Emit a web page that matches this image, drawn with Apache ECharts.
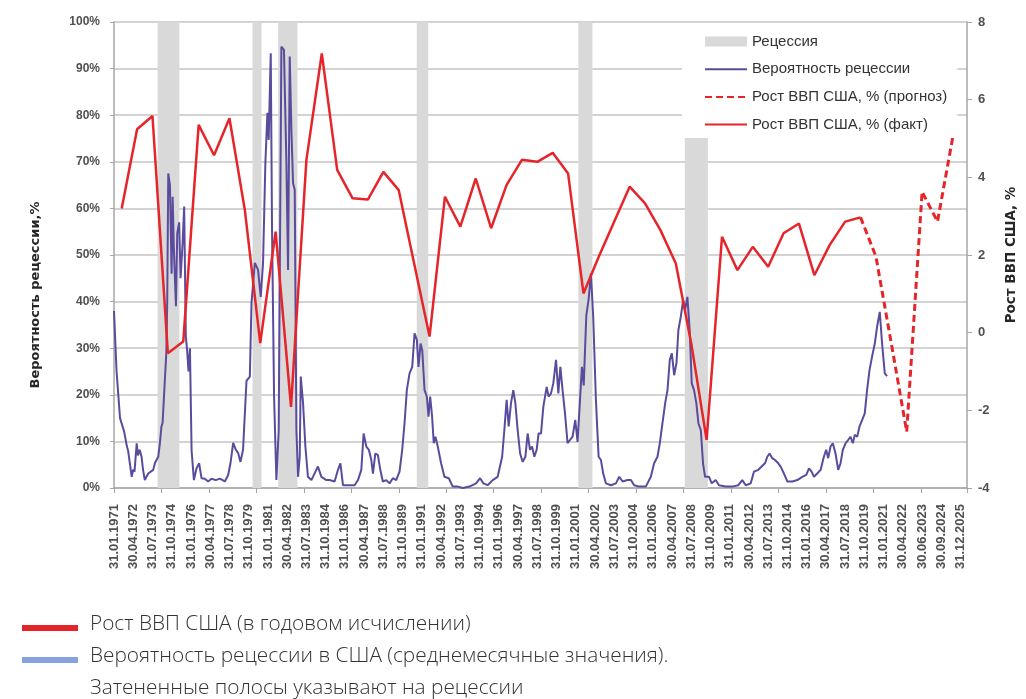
<!DOCTYPE html>
<html>
<head>
<meta charset="utf-8">
<script src="https://cdn.jsdelivr.net/npm/echarts@6/dist/echarts.min.js"></script>
<style>
html, body { margin: 0; padding: 0; background: #fff; }
#chart { width: 1026px; height: 699px; }
</style>
</head>
<body>
<div id="chart"></div>
<script>
// x axis: month index from 31.01.1971, labels every 15 months
var xLabels = ['31.01.1971', '30.04.1972', '31.07.1973', '31.10.1974', '31.01.1976', '30.04.1977', '31.07.1978', '31.10.1979',
    '31.01.1981', '30.04.1982', '31.07.1983', '31.10.1984', '31.01.1986', '30.04.1987', '31.07.1988', '31.10.1989',
    '31.01.1991', '30.04.1992', '31.07.1993', '31.10.1994', '31.01.1996', '30.04.1997', '31.07.1998', '31.10.1999',
    '31.01.2001', '30.04.2002', '31.07.2003', '31.10.2004', '31.01.2006', '30.04.2007', '31.07.2008', '31.10.2009',
    '31.01.2011', '30.04.2012', '31.07.2013', '31.10.2014', '31.01.2016', '30.04.2017', '31.07.2018', '31.10.2019',
    '31.01.2021', '30.04.2022', '30.06.2023', '30.09.2024', '31.12.2025'];

// recessions (month index) and shaded height, %
var recStart = [34, 108, 128, 236, 362, 445];
var recEnd = [51, 115, 143, 245, 373, 463];
var recTop = [100, 100, 100, 100, 100, 75.5];

// GDP growth, % y/y
var gdpYears = [1971, 1972, 1973, 1974, 1975, 1976, 1977, 1978, 1979, 1980, 1981, 1982, 1983, 1984, 1985, 1986, 1987,
    1988, 1989, 1990, 1991, 1992, 1993, 1994, 1995, 1996, 1997, 1998, 1999, 2000, 2001, 2002, 2003, 2004, 2005,
    2006, 2007, 2008, 2009, 2010, 2011, 2012, 2013, 2014, 2015, 2016, 2017, 2018, 2019];
var gdpFact = [3.2, 5.24, 5.58, -0.53, -0.23, 5.35, 4.57, 5.52, 3.16, -0.27, 2.6, -1.91, 4.45, 7.19, 4.19, 3.46, 3.43,
    4.14, 3.67, 1.78, -0.1, 3.5, 2.73, 3.97, 2.69, 3.8, 4.45, 4.4, 4.63, 4.1, 1.01, 1.96, 2.86, 3.76, 3.33,
    2.64, 1.78, -0.27, -2.76, 2.47, 1.61, 2.21, 1.7, 2.56, 2.81, 1.48, 2.26, 2.86, 2.97];
var fcYears = [2019, 2020, 2021, 2022, 2023, 2024, 2025];
var gdpForecast = [2.97, 1.96, -0.28, -2.55, 3.63, 2.86, 5.05];

// recession probability, % : [month index, value]
var probability = [
    [0, 38], [2, 25], [4.7, 15], [6, 15], [8, 12], [10, 9], [11, 8], [13.8, 2.4], [15, 4], [16, 3.5], [17.7, 9.6],
    [18.7, 7], [20, 8.2], [21.5, 6.7], [22.6, 4], [24, 1.7], [26.7, 3.1], [28, 2.8], [30.6, 3.9], [32, 5.4],
    [34.5, 6.7], [35.8, 9.7], [37, 13.2], [37.9, 14], [39.7, 23.5], [40.8, 29], [41.5, 40], [42.3, 67.5],
    [43.6, 65], [44.9, 46], [45.7, 62.5], [46.7, 51], [48.3, 39], [49.3, 54.7], [50.8, 57], [51.9, 45],
    [53.5, 52.6], [54.7, 60.4], [56, 32.5], [57, 29.6], [58.1, 25], [59.2, 30], [60.5, 8], [62.3, 1.7],
    [64.3, 4.2], [66.4, 5.3], [68.2, 2.1], [70.8, 2], [73.4, 1.4], [76, 2], [79.4, 1.7], [82.5, 2], [86.4, 1.4],
    [89, 2.8], [90.8, 5.3], [92.9, 9.7], [95, 8.2], [96.8, 7.5], [98.6, 5.6], [100.6, 8.2], [103.3, 23],
    [105.9, 23.9], [107.2, 39.7], [109.8, 48.3], [112.3, 46.8], [114.4, 41], [116.2, 48.3], [118, 69.7],
    [119.6, 80.5], [120.6, 74.7], [122.2, 93.3], [123.2, 55.4], [124.8, 19.6], [126.6, 1.7], [128.4, 12.4],
    [130.5, 94.7], [132.5, 94], [134.4, 69.7], [135.7, 46.8], [137, 92.6], [138.3, 76.8], [139.6, 65.4],
    [140.9, 64], [142.2, 12.4], [143.5, 2.4], [144.8, 6.7], [145.6, 23.9], [147.4, 18.2], [149.2, 8.9],
    [151.2, 2.4], [153.9, 1.7], [156.5, 3.2], [159, 4.6], [161.7, 2.4], [165.6, 1.7], [168, 1.7], [172, 1.4],
    [174.6, 3.9], [176.5, 5.3], [178.5, 0.6], [182.4, 0.6], [187.6, 0.6], [190.2, 1.7], [192.8, 3.9],
    [194.6, 11.7], [196.7, 8.9], [198.7, 8.2], [200.6, 6], [201.9, 3.1], [203.7, 7.4], [205.7, 7.1],
    [207.6, 3.9], [209.6, 1.4], [212.3, 1.7], [214.8, 1], [217.4, 2.1], [220, 1.7], [222.6, 3.5], [224.7, 8.2],
    [226.5, 13.9], [228.3, 21], [230.4, 24.6], [232.5, 26], [234.3, 33.2], [236.1, 31.8], [237.4, 26],
    [239, 31], [240.3, 29.6], [242.1, 21], [243.9, 19.6], [245.2, 15.3], [246.5, 19.6], [248, 15.3],
    [249.3, 9.6], [250.6, 11], [252.4, 8.9], [255, 5.3], [257.6, 2.4], [261, 2.1], [264.1, 0.3], [268, 0.3],
    [271.9, 0], [277.1, 0.3], [282.3, 1], [285.4, 2.1], [288, 1], [291.3, 0.6], [295.2, 1.7], [299.1, 2.4],
    [302.6, 6.7], [304.3, 12.4], [306.1, 18.9], [307.7, 13.2], [309.5, 18.2], [311.3, 21], [312.9, 18.2],
    [314.7, 12.4], [316.6, 7.4], [318.6, 5.6], [320.7, 6.7], [322.5, 11.7], [324.3, 8.2], [325.9, 8.9],
    [327.7, 6.7], [329.5, 8.2], [331, 11.7], [332.9, 11.7], [334.7, 17.4], [337.3, 21.7], [338.8, 19.6],
    [340.7, 20.3], [342.5, 22.5], [344.6, 27.5], [346.4, 20.3], [348, 26], [349.7, 21], [351.6, 16],
    [353.6, 9.6], [355.5, 10.3], [357.5, 11], [359.6, 14.6], [361.4, 9.9], [363.3, 18.9], [364.8, 26],
    [366.2, 22], [368.2, 37], [370, 40.5], [371.8, 46], [373.6, 36.8], [375.7, 18.9], [377.8, 6.7], [379.6, 6],
    [381.4, 3.1], [383.5, 1], [387.4, 0.6], [391.3, 1], [393.9, 2.4], [396.5, 1.4], [400.3, 1.7], [403, 1.7],
    [405.5, 0.6], [409.4, 0.3], [414.6, 0.3], [418.5, 2.4], [421.1, 5.3], [423.7, 6.7], [425.5, 9.6],
    [427.6, 13.9], [429.7, 18.2], [431.5, 21], [433.3, 27.5], [434.9, 28.9], [436.7, 24.2], [438.5, 26.8],
    [440, 33.9], [441.9, 36.8], [443.7, 40.3], [445.2, 38.2], [447, 41], [448.8, 33.9], [450.4, 22.5],
    [452.2, 21], [454, 18.2], [455.6, 13.9], [457.5, 12.4], [459.2, 5.3], [460.8, 2.4], [463.9, 2.4], [466, 1],
    [469.1, 1.7], [471.6, 0.6], [476.9, 0.3], [482, 0.3], [486.7, 0.6], [489.8, 1.7], [492.5, 0.6], [496.4, 1],
    [498.9, 3.5], [502.3, 3.9], [504.9, 4.6], [507.5, 5.3], [509.3, 6.7], [511.1, 7.4], [513.2, 6.4], [515.3, 6],
    [517.9, 5.3], [519.7, 4.6], [522.3, 3.1], [524.9, 1.4], [528.8, 1.4], [532.7, 1.7], [536.6, 2.4],
    [539.7, 2.8], [541.8, 4.2], [543.9, 3.5], [545.7, 2.4], [548.2, 3.1], [550.9, 3.9], [553.4, 6.7],
    [555.2, 8.2], [556.8, 6.4], [558.6, 8.9], [560.4, 9.6], [562.5, 7.4], [564.6, 3.9], [566.4, 5.3],
    [568.2, 8.2], [570.3, 9.6], [572.3, 10.3], [574.2, 11], [576, 9.6], [577.5, 11.4], [579.4, 11], [581.2, 13.2],
    [583.3, 14.6], [585.3, 16], [587.1, 21], [589, 25.3], [591, 28.2], [593.1, 31], [594.9, 34.6], [597, 37.8],
    [598.8, 31], [600.9, 24.6], [602.7, 24]
];

var xMax = 665;

function yearToMonth(y) {
    return (y - 1971) * 12 + 6;
}

window.onload = function() {
    setChart();
};

function setChart() {
    var ec = echarts.init(document.getElementById('chart'));
    var gray = '#a6a6a6';
    var lblFont = 'Liberation Sans';

    var recAreas = [];
    for (var i = 0; i < recStart.length; i++) {
        recAreas.push([{ xAxis: recStart[i], yAxis: 0 }, { xAxis: recEnd[i], yAxis: recTop[i] }]);
    }

    var noSymbol = { opacity: 0 };
    var noteStyle = { fontSize: 20.8, fontFamily: 'Open Sans', fontWeight: 300, fill: '#333' };

    ec.setOption({
        animation: false,
        grid: { left: 114, right: 58, top: 22, bottom: 211 },
        legend: {
            orient: 'vertical',
            left: 682,
            top: 28,
            padding: [6, 10, 6, 22],
            backgroundColor: '#fff',
            itemWidth: 42,
            itemHeight: 10,
            itemGap: 12.7,
            textStyle: { fontSize: 15, color: '#333', fontFamily: lblFont },
            data: [
                { name: 'Рецессия', icon: 'rect' },
                { name: 'Вероятность рецессии', itemStyle: noSymbol },
                { name: 'Рост ВВП США, % (прогноз)', itemStyle: noSymbol },
                { name: 'Рост ВВП США, % (факт)', itemStyle: noSymbol }
            ]
        },
        xAxis: [{
            type: 'value',
            min: 0,
            max: xMax,
            interval: 15,
            axisLine: { onZero: false, lineStyle: { color: gray, width: 1.5 } },
            axisTick: { show: false },
            splitLine: { show: false },
            axisLabel: {
                rotate: 90,
                margin: 16,
                fontSize: 13,
                fontWeight: 'bold',
                fontFamily: lblFont,
                color: '#505050',
                formatter: function(v) {
                    var k = v / 15;
                    return (k === Math.round(k) && xLabels[k]) ? xLabels[k] : '';
                }
            }
        }, {
            type: 'value',
            min: 0,
            max: xMax,
            interval: 37,
            position: 'bottom',
            axisLine: { show: false, onZero: false },
            axisTick: { show: true, length: 5, lineStyle: { color: gray } },
            axisLabel: { show: false },
            splitLine: { show: false }
        }],
        yAxis: [{
            type: 'value',
            min: 0,
            max: 100,
            interval: 10,
            name: 'Вероятность рецессии,%',
            nameLocation: 'middle',
            nameRotate: 90,
            nameGap: 72,
            nameTextStyle: { fontSize: 13, fontWeight: 'bold', fontFamily: 'DejaVu Sans', color: '#262626', padding: [0, 80, 0, 0] },
            axisLine: { show: true, onZero: false, lineStyle: { color: gray, width: 1.5 } },
            axisTick: { show: true, length: 4, lineStyle: { color: gray } },
            splitLine: { lineStyle: { color: '#c4c4c4', width: 1.5 } },
            axisLabel: { formatter: '{value}%', margin: 14, fontSize: 12, fontWeight: 'bold', fontFamily: lblFont, color: '#505050' }
        }, {
            type: 'value',
            min: -4,
            max: 8,
            interval: 2,
            position: 'right',
            name: 'Рост ВВП США, %',
            nameLocation: 'middle',
            nameRotate: 90,
            nameGap: 37,
            nameTextStyle: { fontSize: 13.5, fontWeight: 'bold', fontFamily: 'DejaVu Sans', color: '#262626' },
            axisLine: { show: true, onZero: false, lineStyle: { color: gray, width: 1.5 } },
            axisTick: { show: true, length: 5, lineStyle: { color: gray } },
            splitLine: { show: false },
            axisLabel: { margin: 11, fontSize: 13, fontWeight: 'bold', fontFamily: lblFont, color: '#505050' }
        }],
        series: [{
            name: 'Рецессия',
            type: 'line',
            data: [],
            itemStyle: { color: '#d9d9d9' },
            z: 1,
            markArea: {
                silent: true,
                itemStyle: { color: '#d9d9d9', opacity: 1 },
                data: recAreas
            }
        }, {
            name: 'Вероятность рецессии',
            type: 'line',
            yAxisIndex: 0,
            symbol: 'none',
            z: 2,
            lineStyle: { color: '#5b4b9d', width: 2 },
            itemStyle: { color: '#5b4b9d' },
            data: probability
        }, {
            name: 'Рост ВВП США, % (прогноз)',
            type: 'line',
            yAxisIndex: 1,
            symbol: 'none',
            z: 3,
            lineStyle: { color: '#e5252a', width: 3, type: [7, 4] },
            itemStyle: { color: '#e5252a' },
            data: fcYears.map(function(y, i) { return [yearToMonth(y), gdpForecast[i]]; })
        }, {
            name: 'Рост ВВП США, % (факт)',
            type: 'line',
            yAxisIndex: 1,
            symbol: 'none',
            z: 4,
            lineStyle: { color: '#e5252a', width: 2.5 },
            itemStyle: { color: '#e5252a' },
            data: gdpYears.map(function(y, i) { return [yearToMonth(y), gdpFact[i]]; })
        }],
        graphic: [
            { type: 'rect', left: 22, top: 625, shape: { width: 56, height: 6 }, style: { fill: '#e5242a' } },
            { type: 'text', left: 90, top: 614, style: Object.assign({ text: 'Рост ВВП США (в годовом исчислении)' }, noteStyle) },
            { type: 'rect', left: 22, top: 657, shape: { width: 56, height: 6 }, style: { fill: '#85a2dc' } },
            { type: 'text', left: 90, top: 646, style: Object.assign({ text: 'Вероятность рецессии в США (среднемесячные значения).' }, noteStyle) },
            { type: 'text', left: 90, top: 678, style: Object.assign({ text: 'Затененные полосы указывают на рецессии' }, noteStyle) }
        ]
    });
}
</script>
</body>
</html>
